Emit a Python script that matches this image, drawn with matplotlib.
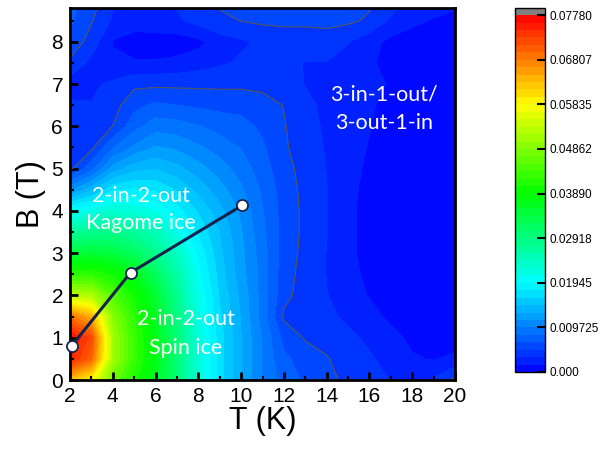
import numpy as np
import matplotlib
matplotlib.use('Agg')
import matplotlib.pyplot as plt
from matplotlib.colors import LinearSegmentedColormap
from matplotlib.ticker import MultipleLocator

# ---- data (values in units of 1e-3), columns at T = 2..20 K, rows B = 0..9 T step 0.5
T_vals = np.arange(2, 21, 1)
B_vals = np.arange(0, 9.01, 0.5)

z_T02 = [63, 75, 77, 69, 53, 42, 34, 27, 20, 11, 4.5, 4.0, 4.0, 3.5, 2.5, 4.5, 6.0, 6.8, 7.0]
z_T03 = [58, 70, 72, 64, 52, 42, 35, 28, 21, 14, 7.5, 4.5, 3.8, 3.3, 3.0, 2.8, 4.2, 5.0, 5.8]
z_T04 = [47, 51, 51, 49, 45, 40, 34, 28.5, 23, 17.5, 12, 8, 4.9, 4.2, 3.5, 2.0, 1.5, 3.0, 3.5]
z_T05 = [41, 43, 43, 42, 40, 37, 32, 27, 22, 18, 14, 10, 7.5, 6, 4.5, 1.8, 0.8, 2.5, 3.0]
z_T06 = [36, 37, 37, 36, 35, 32, 28, 25, 21, 17.5, 14.5, 11.5, 9, 6.8, 4.5, 1.8, 0.7, 2.8, 3.2]
z_T07 = [30, 30, 30, 29, 28, 26, 24, 21, 18.5, 16, 13.5, 11, 8.8, 6.5, 4.5, 2.0, 0.8, 3.0, 3.5]
z_T08 = [22, 22, 22, 21.5, 21, 20, 19, 17.5, 16, 14, 12, 10, 8.2, 6.2, 4.5, 2.5, 1.2, 3.8, 4.4]
z_T09 = [17, 17, 17, 16.5, 16, 15.5, 15, 14.5, 13.5, 12, 10.5, 9, 7.5, 6, 4.5, 3, 2.5, 4.5, 5.2]
z_T10 = [13, 13, 13, 12.8, 12.5, 12, 11.8, 11.5, 11, 10, 9, 8, 7, 6, 4.5, 3.5, 3, 4.9, 6]
z_T11 = [9.5, 9.5, 9.5, 9, 9, 9, 8.8, 8.5, 8.2, 7.8, 7.2, 6.7, 6.2, 5.7, 4.3, 3.6, 3.5, 5.2, 6]
z_T12 = [7.5, 6.8, 6.0, 4.6, 5.3, 5.5, 5.7, 5.8, 5.8, 5.7, 5.5, 5.1, 5.0, 4.8, 3.8, 3.5, 3.8, 5.3, 6]
z_T13 = [6.2, 5.8, 4.7, 4.2, 4.2, 4.3, 4.4, 4.5, 4.5, 4.4, 4.2, 4.0, 3.8, 3.5, 3.2, 3.2, 3.8, 5.3, 5.8]
z_T14 = [5.3, 5.0, 4.2, 3.5, 3.3, 3.2, 3.2, 3.3, 3.3, 3.3, 3.2, 3.1, 3.0, 3.0, 3.0, 3.2, 3.8, 5.5, 6.0]
z_T15 = [4.5, 4.0, 3.5, 3.0, 2.5, 2.2, 2.0, 2.0, 2.0, 2.0, 2.2, 2.4, 2.5, 2.7, 2.8, 2.8, 3.3, 5.2, 6.0]
z_T16 = [3.8, 3.4, 3.0, 2.3, 1.5, 1.2, 1.0, 1.0, 1.0, 1.2, 1.3, 1.5, 1.7, 1.8, 2.0, 1.8, 2.2, 4.6, 5.2]
z_T17 = [3.2, 2.8, 2.2, 1.2, 0.6, 0.5, 0.5, 0.5, 0.5, 0.6, 0.6, 0.7, 0.8, 1.2, 1.5, 1.2, 1.2, 3.0, 4.0]
z_T18 = [2.4, 1.8, 1.2, 0.6, 0.4, 0.3, 0.3, 0.3, 0.3, 0.4, 0.4, 0.4, 0.5, 0.8, 1.0, 0.8, 0.8, 2.0, 3.0]
z_T19 = [3.5, 1.5, 0.8, 0.4, 0.3, 0.3, 0.3, 0.3, 0.3, 0.3, 0.3, 0.3, 0.4, 0.5, 0.6, 0.5, 0.5, 1.5, 2.5]
z_T20 = [5.3, 2.0, 0.8, 0.4, 0.3, 0.3, 0.3, 0.3, 0.3, 0.3, 0.3, 0.3, 0.4, 0.4, 0.5, 0.4, 0.4, 1.2, 2.0]

boundary_T = [2.08, 4.83, 10.05]
boundary_B = [0.81, 2.54, 4.13]

cbar_ticks = [0.0, 0.009725, 0.01945, 0.02918, 0.03890, 0.04862, 0.05835, 0.06807, 0.07780]
cbar_labels = ["0.000", "0.009725", "0.01945", "0.02918", "0.03890",
               "0.04862", "0.05835", "0.06807", "0.07780"]

cols = [z_T02, z_T03, z_T04, z_T05, z_T06, z_T07, z_T08, z_T09, z_T10, z_T11,
        z_T12, z_T13, z_T14, z_T15, z_T16, z_T17, z_T18, z_T19, z_T20]
Z = np.array(cols).T * 1e-3
TT, BB = np.meshgrid(T_vals, B_vals)

# ---- figure
fig = plt.figure(figsize=(6.0, 4.49), dpi=100)
ax = fig.add_axes([70/600, (449-380)/449, 385/600, 372/449])

cmap = LinearSegmentedColormap.from_list(
    'origin_rainbow',
    [(0.0, '#0000ff'), (0.25, '#00ffff'), (0.5, '#00ff00'),
     (0.75, '#ffff00'), (1.0, '#ff0000')])
cmap.set_over('#808080')

levels = np.linspace(0, 0.0778, 49)
cs = ax.contourf(TT, BB, Z, levels=levels, cmap=cmap, extend='max')
ax.contour(TT, BB, Z, levels=[levels[3]], colors='#555555', linewidths=0.8)

ax.plot(boundary_T, boundary_B, '-', color='#13234d', lw=2.2, zorder=5)
ax.plot(boundary_T, boundary_B, 'o', ms=8, mfc='white', mec='#13234d', mew=1.3,
        zorder=6, clip_on=False)

txt_kw = dict(color='white', fontsize=15.5, family='Lato', ha='center', va='center')
ax.text(5.3, 4.36, '2-in-2-out', **txt_kw)
ax.text(5.3, 3.72, 'Kagome ice', **txt_kw)
ax.text(7.4, 1.45, '2-in-2-out', **txt_kw)
ax.text(7.4, 0.76, 'Spin ice', **txt_kw)
ax.text(16.7, 6.75, '3-in-1-out/', **txt_kw)
ax.text(16.7, 6.09, '3-out-1-in', **txt_kw)

ax.set_xlim(2, 20)
ax.set_ylim(0, 8.8)
ax.xaxis.set_major_locator(MultipleLocator(2))
ax.xaxis.set_minor_locator(MultipleLocator(1))
ax.yaxis.set_major_locator(MultipleLocator(1))
ax.yaxis.set_minor_locator(MultipleLocator(0.5))
ax.tick_params(which='major', direction='in', length=6, width=2, labelsize=15,
               pad=5, top=False, right=False)
ax.tick_params(which='minor', direction='in', length=3, width=1.5, top=False, right=False)
for lab in ax.get_xticklabels() + ax.get_yticklabels():
    lab.set_family('Liberation Sans')
for s in ax.spines.values():
    s.set_linewidth(2)
ax.set_xlabel('T (K)', fontsize=22, family='Liberation Sans', labelpad=0)
ax.set_ylabel('B (T)', fontsize=22, family='Liberation Sans', labelpad=4)

# ---- colorbar
cax = fig.add_axes([515/600, (449-372)/449, 30/600, 364/449])
cb = fig.colorbar(cs, cax=cax, extendrect=True, extendfrac=0.02, ticks=cbar_ticks)
cb.ax.set_yticklabels(cbar_labels)
cb.ax.tick_params(direction='in', length=6, width=1.5, labelsize=8.5, pad=3)
for lab in cb.ax.get_yticklabels():
    lab.set_family('Liberation Sans')
cb.outline.set_linewidth(1)
cb.ax.minorticks_off()

fig.savefig('out.png', dpi=100)
